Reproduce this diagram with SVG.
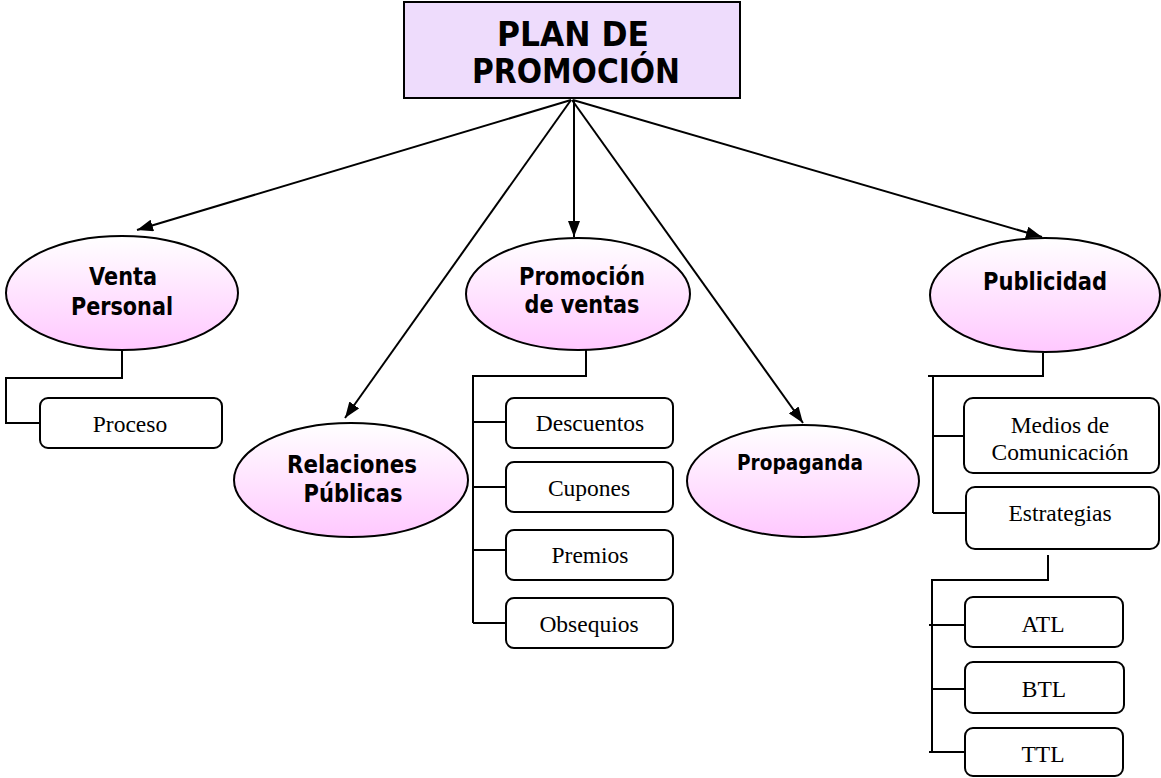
<svg xmlns="http://www.w3.org/2000/svg" width="1161" height="778" viewBox="0 0 1161 778">
  <style>
    .title { font-family: "DejaVu Sans", Verdana, sans-serif; font-weight: bold; font-size: 34px; fill: #000; text-anchor: middle; }
    .ell-label { font-family: "DejaVu Sans", Verdana, sans-serif; font-weight: bold; font-size: 24px; fill: #000; text-anchor: middle; }
    .box-label { font-family: "Liberation Serif", "Times New Roman", serif; font-size: 23.5px; fill: #000; text-anchor: middle; }
    .ell { fill: url(#pinkGrad); stroke: #000; stroke-width: 2; }
    .box { fill: #fff; stroke: #000; stroke-width: 2; }
    .arrow { fill: none; stroke: #000; stroke-width: 2; marker-end: url(#head); }
    .tree { fill: none; stroke: #000; stroke-width: 2; }
  </style>
  <defs>
    <linearGradient id="pinkGrad" x1="0" y1="0" x2="0" y2="1">
      <stop offset="0" stop-color="#ffffff"/>
      <stop offset="1" stop-color="#ffc8ff"/>
    </linearGradient>
    <marker id="head" viewBox="0 0 16 12" refX="16" refY="6" markerWidth="16" markerHeight="12" markerUnits="userSpaceOnUse" orient="auto">
      <path d="M0,0 L16,6 L0,12 z" fill="#000"/>
    </marker>
  </defs>

  <!-- connectors -->
  <g id="connectors">
    <!-- arrows from the root -->
    <line class="arrow" x1="571" y1="100" x2="137" y2="230"/>
    <line class="arrow" x1="571" y1="100" x2="345" y2="418"/>
    <line class="arrow" x1="574" y1="100" x2="574" y2="237"/>
    <line class="arrow" x1="572" y1="100" x2="803" y2="423"/>
    <line class="arrow" x1="573" y1="100" x2="1042" y2="237"/>

    <!-- Venta Personal tree -->
    <polyline class="tree" points="122,350 122,378 6,378 6,423 40,423"/>

    <!-- Promoción de ventas tree -->
    <polyline class="tree" points="586,350 586,376 473,376 473,623"/>
    <line class="tree" x1="473" y1="422" x2="506" y2="422"/>
    <line class="tree" x1="473" y1="487" x2="506" y2="487"/>
    <line class="tree" x1="473" y1="550" x2="506" y2="550"/>
    <line class="tree" x1="473" y1="623" x2="506" y2="623"/>

    <!-- Publicidad tree -->
    <polyline class="tree" points="1043,353 1043,376 928,376"/>
    <line class="tree" x1="933" y1="376" x2="933" y2="513"/>
    <line class="tree" x1="933" y1="436" x2="964" y2="436"/>
    <line class="tree" x1="933" y1="513" x2="966" y2="513"/>

    <!-- Estrategias tree -->
    <polyline class="tree" points="1048,555 1048,580 932,580 932,752"/>
    <line class="tree" x1="929" y1="625" x2="965" y2="625"/>
    <line class="tree" x1="932" y1="689" x2="965" y2="689"/>
    <line class="tree" x1="929" y1="752" x2="965" y2="752"/>
  </g>

  <!-- root -->
  <g id="plan-promocion">
    <rect x="404" y="2" width="336" height="96" fill="#eedcfc" stroke="#000" stroke-width="2"/>
    <text class="title" x="573" y="46" textLength="152" lengthAdjust="spacingAndGlyphs">PLAN DE</text>
    <text class="title" x="576" y="83" textLength="208" lengthAdjust="spacingAndGlyphs">PROMOCIÓN</text>
  </g>

  <g id="venta-personal">
    <ellipse class="ell" cx="122" cy="293" rx="116" ry="57"/>
    <text class="ell-label" x="123" y="285" textLength="68" lengthAdjust="spacingAndGlyphs">Venta</text>
    <text class="ell-label" x="122" y="315" textLength="102" lengthAdjust="spacingAndGlyphs">Personal</text>
  </g>

  <g id="proceso">
    <rect class="box" x="40" y="398" width="182" height="50" rx="8"/>
    <text class="box-label" x="130" y="432">Proceso</text>
  </g>

  <g id="relaciones-publicas">
    <ellipse class="ell" cx="351" cy="480" rx="117" ry="57"/>
    <text class="ell-label" x="352" y="473" textLength="130" lengthAdjust="spacingAndGlyphs">Relaciones</text>
    <text class="ell-label" x="353" y="502" textLength="99" lengthAdjust="spacingAndGlyphs">Públicas</text>
  </g>

  <g id="promocion-ventas">
    <ellipse class="ell" cx="578" cy="294" rx="112" ry="56"/>
    <text class="ell-label" x="582" y="285" textLength="126" lengthAdjust="spacingAndGlyphs">Promoción</text>
    <text class="ell-label" x="582" y="313" textLength="115" lengthAdjust="spacingAndGlyphs">de ventas</text>
  </g>

  <g id="descuentos">
    <rect class="box" x="506" y="398" width="167" height="50" rx="8"/>
    <text class="box-label" x="590" y="431">Descuentos</text>
  </g>
  <g id="cupones">
    <rect class="box" x="506" y="462" width="167" height="50" rx="8"/>
    <text class="box-label" x="589" y="496">Cupones</text>
  </g>
  <g id="premios">
    <rect class="box" x="506" y="530" width="167" height="50" rx="8"/>
    <text class="box-label" x="590" y="563">Premios</text>
  </g>
  <g id="obsequios">
    <rect class="box" x="506" y="598" width="167" height="50" rx="8"/>
    <text class="box-label" x="589" y="632">Obsequios</text>
  </g>

  <g id="propaganda">
    <ellipse class="ell" cx="803" cy="481" rx="116" ry="56"/>
    <text class="ell-label" x="800" y="470" style="font-size:21px" textLength="126" lengthAdjust="spacingAndGlyphs">Propaganda</text>
  </g>

  <g id="publicidad">
    <ellipse class="ell" cx="1045" cy="295" rx="115" ry="57"/>
    <text class="ell-label" x="1045" y="290" textLength="124" lengthAdjust="spacingAndGlyphs">Publicidad</text>
  </g>

  <g id="medios-comunicacion">
    <rect class="box" x="964" y="398" width="195" height="75" rx="9"/>
    <text class="box-label" x="1060" y="433">Medios de</text>
    <text class="box-label" x="1060" y="460">Comunicación</text>
  </g>
  <g id="estrategias">
    <rect class="box" x="966" y="487" width="193" height="62" rx="9"/>
    <text class="box-label" x="1060" y="521">Estrategias</text>
  </g>

  <g id="atl">
    <rect class="box" x="965" y="597" width="158" height="50" rx="8"/>
    <text class="box-label" x="1043" y="632">ATL</text>
  </g>
  <g id="btl">
    <rect class="box" x="965" y="662" width="159" height="51" rx="8"/>
    <text class="box-label" x="1044" y="697">BTL</text>
  </g>
  <g id="ttl">
    <rect class="box" x="965" y="728" width="158" height="48" rx="8"/>
    <text class="box-label" x="1043" y="762">TTL</text>
  </g>
</svg>
